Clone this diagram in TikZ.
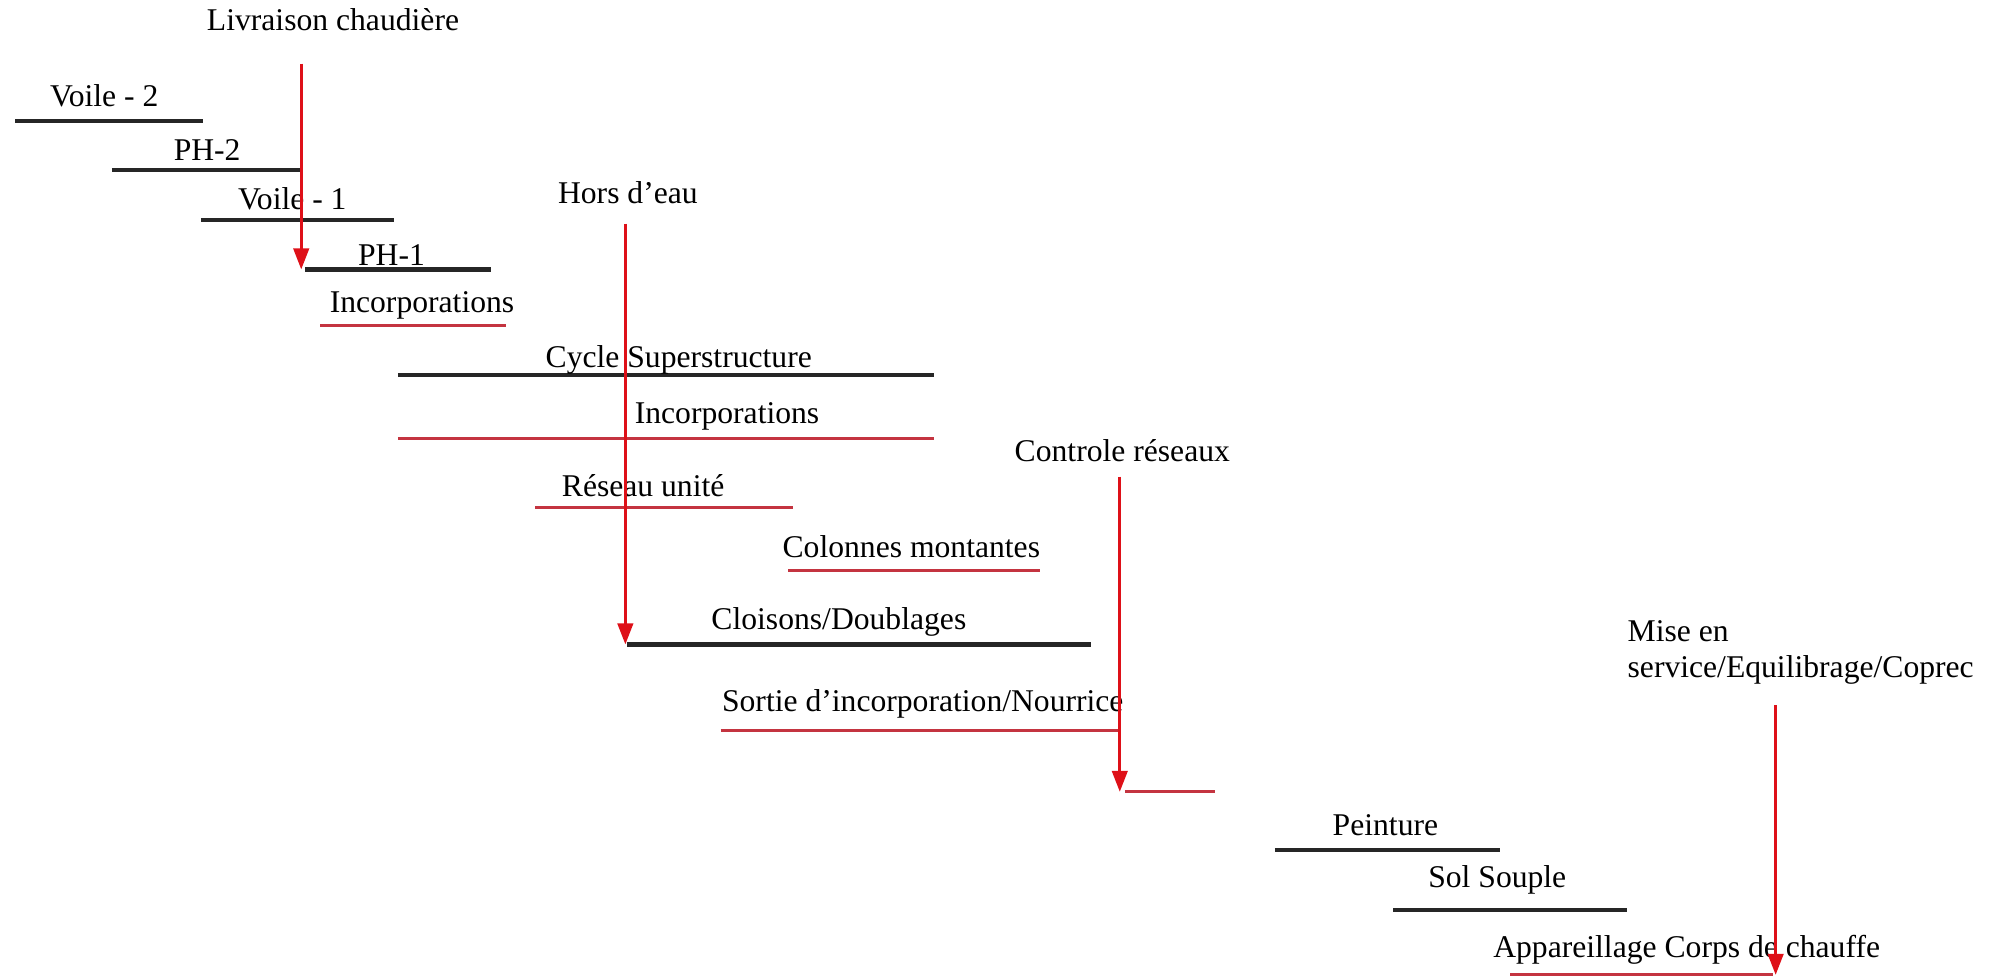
\documentclass[tikz,border=0pt]{standalone}
\usepackage{fontspec}
\setmainfont{Liberation Serif}
\usetikzlibrary{arrows.meta}
\definecolor{barred}{RGB}{196,52,64}
\definecolor{markred}{RGB}{222,16,24}
\begin{document}
\begin{tikzpicture}[x=0.012711cm,y=-0.012711cm,
  lbl/.style={inner sep=0pt,anchor=base,font=\fontsize{9}{10.1}\selectfont},
  blackbar/.style={line width=1.2pt,black!85},
  redbar/.style={line width=0.8pt,barred},
  milestone/.style={line width=0.85pt,markred,-{Triangle[length=6pt,width=4.4pt]}}]
\useasboundingbox (0,0) rectangle (1568,769.4);

% ---- task bars: left end, right end, label ----
\coordinate (v2a) at (12,95);   \coordinate (v2b) at (160,95);
\draw[blackbar] (v2a) -- (v2b);
\node[lbl] (v2) at (82,84) {Voile - 2};

\coordinate (p2a) at (88,134);  \coordinate (p2b) at (237,134);
\draw[blackbar] (p2a) -- (p2b);
\node[lbl] (p2) at (163,126) {PH-2};

\coordinate (v1a) at (158,173); \coordinate (v1b) at (310,173);
\draw[blackbar] (v1a) -- (v1b);
\node[lbl] (v1) at (230,165) {Voile - 1};

\coordinate (p1a) at (240,212); \coordinate (p1b) at (386,212);
\draw[blackbar] (p1a) -- (p1b);
\node[lbl] (p1) at (308,209) {PH-1};

\coordinate (i1a) at (252,256); \coordinate (i1b) at (398,256);
\draw[redbar] (i1a) -- (i1b);
\node[lbl] (i1) at (332,246) {Incorporations};

\coordinate (csa) at (313,295); \coordinate (csb) at (735,295);
\draw[blackbar] (csa) -- (csb);
\node[lbl] (cs) at (534,289) {Cycle Superstructure};

\coordinate (i2a) at (313,345); \coordinate (i2b) at (735,345);
\draw[redbar] (i2a) -- (i2b);
\node[lbl] (i2) at (572,333) {Incorporations};

\coordinate (rua) at (421,399); \coordinate (rub) at (624,399);
\draw[redbar] (rua) -- (rub);
\node[lbl] (ru) at (506,391) {Réseau unité};

\coordinate (cma) at (620,449); \coordinate (cmb) at (818,449);
\draw[redbar] (cma) -- (cmb);
\node[lbl] (cm) at (717,439) {Colonnes montantes};

\coordinate (cda) at (493,507); \coordinate (cdb) at (858,507);
\draw[blackbar] (cda) -- (cdb);
\node[lbl] (cd) at (660,495) {Cloisons/Doublages};

\coordinate (sia) at (567,575); \coordinate (sib) at (880,575);
\draw[redbar] (sia) -- (sib);
\node[lbl] (si) at (726,560) {Sortie d'incorporation/Nourrice};

\coordinate (xa) at (885,623);  \coordinate (xb) at (956,623);
\draw[redbar] (xa) -- (xb);

\coordinate (pea) at (1003,669); \coordinate (peb) at (1180,669);
\draw[blackbar] (pea) -- (peb);
\node[lbl] (pe) at (1090,657) {Peinture};

\coordinate (ssa) at (1096,716); \coordinate (ssb) at (1280,716);
\draw[blackbar] (ssa) -- (ssb);
\node[lbl] (ss) at (1178,698) {Sol Souple};

\coordinate (aca) at (1188,767); \coordinate (acb) at (1395,767);
\draw[redbar] (aca) -- (acb);
\node[lbl] (ac) at (1327,753) {Appareillage Corps de chauffe};

% ---- milestones ----
\node[lbl] (m1) at (262,24) {Livraison chaudière};
\coordinate (m1s) at (237,50);
\draw[milestone] (m1s) -- (m1s |- p1a);

\node[lbl] (m2) at (494,160) {Hors d'eau};
\coordinate (m2s) at (492,176);
\draw[milestone] (m2s) -- (m2s |- cda);

\node[lbl] (m3) at (883,363) {Controle réseaux};
\coordinate (m3s) at (881,375);
\draw[milestone] (m3s) -- (m3s |- xa);

\node[lbl,anchor=base west,align=left] (m4) at (1280,533) {Mise en\\service/Equilibrage/Coprec};
\coordinate (m4s) at (1397,555);
\draw[milestone] (m4s) -- (m4s |- acb);
\end{tikzpicture}
\end{document}
